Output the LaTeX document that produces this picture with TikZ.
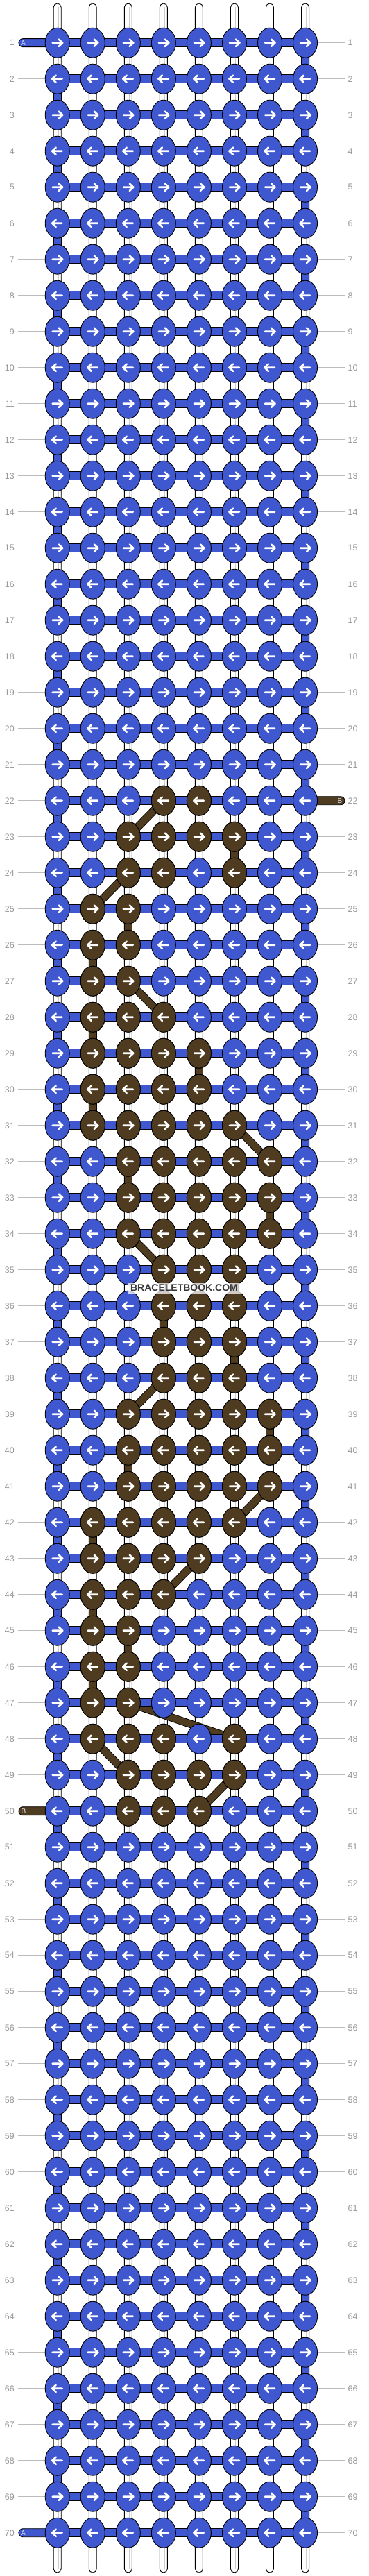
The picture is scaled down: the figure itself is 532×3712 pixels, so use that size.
\documentclass[tikz,border=0pt]{standalone}
\usepackage{fontspec}
\setmainfont{Liberation Sans}
\usetikzlibrary{shapes.geometric}
\definecolor{kblue}{HTML}{3F58D0}
\definecolor{kbrown}{HTML}{4F3C20}
\definecolor{lblgray}{HTML}{999999}
\definecolor{linegray}{HTML}{BBBBBB}
\definecolor{taillbl}{HTML}{E4E4F4}
\newcommand\knotarrow[3]{%
  \draw[white, line width=2.6pt, line cap=round, line join=round]
    ({#1-7*(#3)},#2) -- ({#1+7*(#3)},#2)
    ({#1+2*(#3)},{#2-5.2}) -- ({#1+7.5*(#3)},#2) -- ({#1+2*(#3)},{#2+5.2});
}
\tikzset{
  lbl/.style={text=lblgray, font=\fontsize{12.5}{12.5}\selectfont, inner sep=0pt},
  guide/.style={draw=linegray, line width=0.9pt},
  outl/.style={draw=black, line width=0.9pt},
  knot/.style={ellipse, draw=black, line width=0.9pt, minimum width=35pt, minimum height=43pt, inner sep=0pt},
  taillabel/.style={text=taillbl, font=\fontsize{10}{10}\selectfont, inner sep=0pt},
}
\begin{document}
\begin{tikzpicture}[x=1pt,y=-1pt]
\useasboundingbox (0,0) rectangle (532,3712);
\fill[white] (0,0) rectangle (532,3712);
% row labels and guide lines
\foreach \r in {1,...,70}{
  \pgfmathsetmacro\yy{61.7+52*(\r-1)}
  \node[lbl, anchor=east] (L\r) at (21,\yy) {\r};
  \node[lbl, anchor=west] (R\r) at (501.5,\yy) {\r};
  \draw[guide] (26,\yy) -- (497,\yy);
}
% vertical white strands
\foreach \c in {1,...,8}{
  \pgfmathsetmacro\xx{82.7+51.05*(\c-1)}
  \draw[outl, fill=white, rounded corners=5.5pt] ({\xx-5.5},5) rectangle ({\xx+5.5},3707);
  \draw[gray!40, line width=0.8pt] ({\xx+1.5},10) -- ({\xx+1.5},3702);
}
% blue snake verticals
\foreach \r in {1,...,69}{
  \pgfmathsetmacro\yy{61.7+52*(\r-1)}
  \pgfmathsetmacro\xx{ifthenelse(mod(\r,2)==1,440.05,82.7)}
  \draw[outl, fill=kblue] ({\xx-5.5},\yy) rectangle ({\xx+5.5},{\yy+52});
}
% brown verticals
\foreach \r/\c in {23/6,25/3,26/2,28/2,29/5,30/2,32/3,33/7,35/6,36/4,37/6,39/7,40/3,42/2,44/2,45/3,46/2}{
  \pgfmathsetmacro\yy{61.7+52*(\r-1)}
  \pgfmathsetmacro\xx{82.7+51.05*(\c-1)}
  \draw[outl, fill=kbrown] ({\xx-5.5},\yy) rectangle ({\xx+5.5},{\yy+52});
}
% diagonals
\foreach \r/\a/\b in {22/4/3,24/3/2,27/3/4,31/6/7,34/3/4,38/4/3,41/7/6,43/5/4,47/3/6,48/2/3,49/6/5}{
  \pgfmathsetmacro\yy{61.7+52*(\r-1)}
  \pgfmathsetmacro\xa{82.7+51.05*(\a-1)}
  \pgfmathsetmacro\xb{82.7+51.05*(\b-1)}
  \draw[black, line width=11.5pt] (\xa,\yy) -- (\xb,{\yy+52});
  \draw[kbrown, line width=9.7pt] (\xa,\yy) -- (\xb,{\yy+52});
}
% tails
\draw[outl, fill=kblue, rounded corners=6pt] (27,55.7) rectangle (90,67.7);
\node[taillabel, anchor=west] (tA1) at (30,61.7) {A};
\draw[outl, fill=kblue, rounded corners=6pt] (27,3643.7) rectangle (90,3655.7);
\node[taillabel, anchor=west] (tA2) at (30,3649.7) {A};
\draw[outl, fill=kbrown, rounded corners=6pt] (430,1147.7) rectangle (497,1159.7);
\node[taillabel, anchor=east] (tB1) at (493.5,1153.7) {B};
\draw[outl, fill=kbrown, rounded corners=6pt] (27,2603.7) rectangle (90,2615.7);
\node[taillabel, anchor=west] (tB2) at (30.5,2609.7) {B};
% horizontal bands
\foreach \r in {1,...,70}{
  \pgfmathsetmacro\yy{61.7+52*(\r-1)}
  \draw[outl, fill=kblue] (82.7,{\yy-6}) rectangle (440.05,{\yy+6});
}
% knots
\foreach \r in {1,...,70}{
  \pgfmathsetmacro\yy{61.7+52*(\r-1)}
  \pgfmathsetmacro\dd{ifthenelse(mod(\r,2)==1,1,-1)}
  \foreach \c in {1,...,8}{
    \pgfmathsetmacro\xx{82.7+51.05*(\c-1)}
    \node[knot, fill=kblue] (k\r-\c) at (\xx,\yy) {};
    \knotarrow{\xx}{\yy}{\dd}
  }
}
% brown knots
\foreach \r/\a/\b in {22/4/5,23/3/6,24/3/4,24/6/6,25/2/3,26/2/3,27/2/3,28/2/4,29/2/5,30/2/5,31/2/6,32/3/7,33/3/7,34/3/7,35/4/6,36/4/6,37/4/6,38/4/6,39/3/7,40/3/7,41/3/7,42/2/6,43/2/5,44/2/4,45/2/3,46/2/3,47/2/3,48/2/4,48/6/6,49/3/6,50/3/5}{
  \pgfmathsetmacro\yy{61.7+52*(\r-1)}
  \pgfmathsetmacro\dd{ifthenelse(mod(\r,2)==1,1,-1)}
  \foreach \c in {\a,...,\b}{
    \pgfmathsetmacro\xx{82.7+51.05*(\c-1)}
    \node[knot, fill=kbrown] (b\r-\c) at (\xx,\yy) {};
    \knotarrow{\xx}{\yy}{\dd}
  }
}
% watermark
\fill[white, opacity=0.75] (184,1848.5) rectangle (347,1864);
\node[font=\fontsize{14}{14}\selectfont\bfseries, text=black!78, inner sep=0pt] (wm) at (265.5,1856) {BRACELETBOOK.COM};
\end{tikzpicture}
\end{document}
